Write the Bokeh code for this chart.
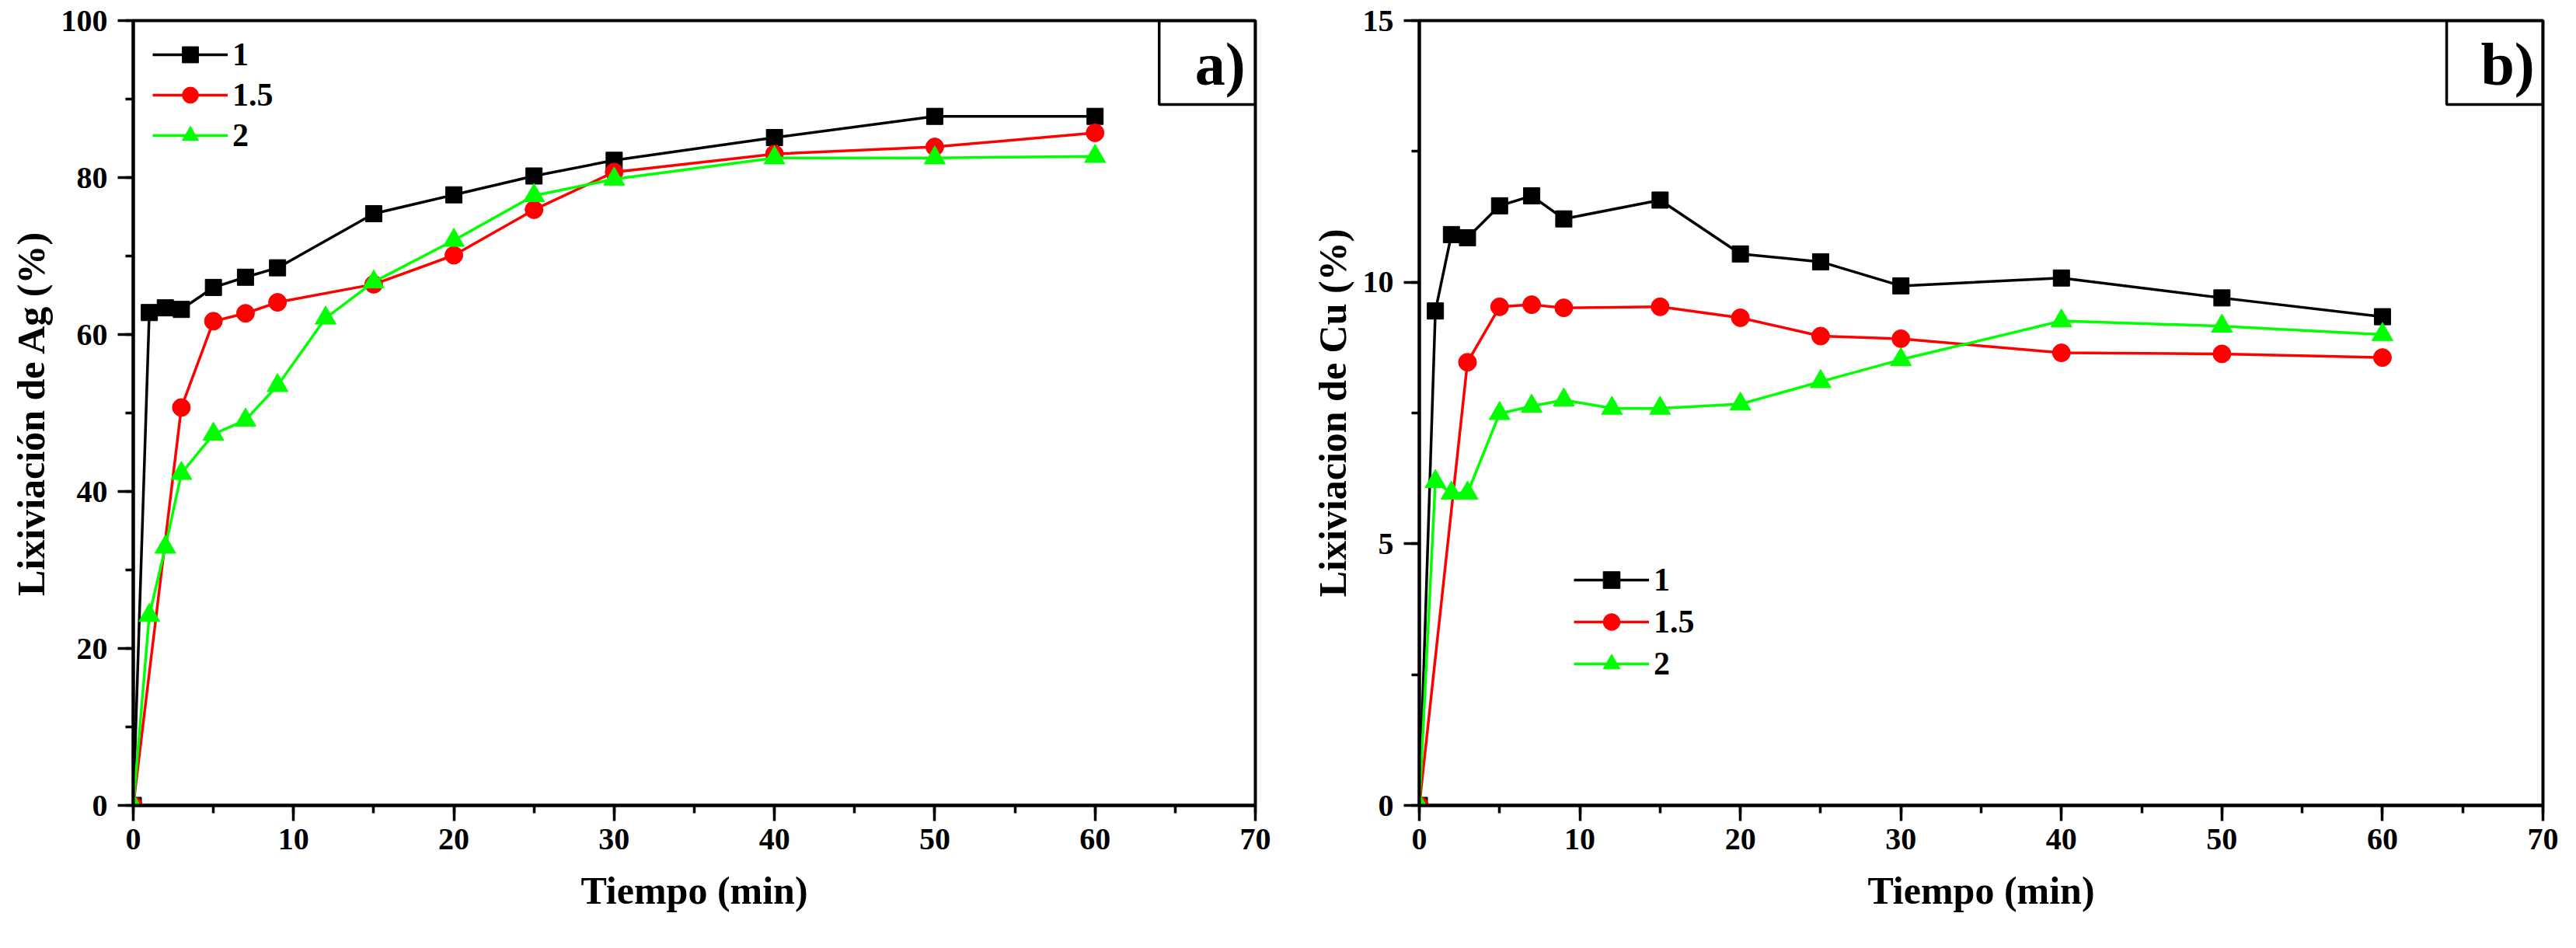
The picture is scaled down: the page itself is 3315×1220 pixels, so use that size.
from bokeh.embed import file_html
from bokeh.layouts import row
from bokeh.models import (BoxAnnotation, Label, Legend, LegendItem, Range1d,
                          SingleIntervalTicker)
from bokeh.plotting import figure
from bokeh.resources import INLINE

# Data
t_1 = [0, 1, 2, 3, 5, 7, 9, 15, 20, 25, 30, 40, 50, 60]
t_15 = [0, 3, 5, 7, 9, 15, 20, 25, 30, 40, 50, 60]
t_2 = [0, 1, 2, 3, 5, 7, 9, 12, 15, 20, 25, 30, 40, 50, 60]

ag_1 = [0, 62.8, 63.4, 63.2, 66.0, 67.3, 68.5, 75.4, 77.8, 80.2, 82.2, 85.1, 87.8, 87.8]
ag_15 = [0, 50.7, 61.7, 62.7, 64.1, 66.4, 70.1, 75.9, 80.7, 83.0, 83.9, 85.7]
ag_2 = [0, 24.2, 32.9, 42.3, 47.3, 49.1, 53.5, 62.1, 66.7, 72.0, 77.7, 79.8, 82.5, 82.5, 82.7]

cu_1 = [0, 9.45, 10.91, 10.85, 11.46, 11.65, 11.21, 11.57, 10.54, 10.39, 9.93, 10.08, 9.70, 9.34]
cu_15 = [0, 8.47, 9.53, 9.57, 9.51, 9.53, 9.32, 8.97, 8.92, 8.65, 8.63, 8.56]
cu_2 = [0, 6.19, 5.97, 5.97, 7.49, 7.63, 7.75, 7.59, 7.59, 7.67, 8.10, 8.52, 9.26, 9.16, 9.00]

labels = ["1", "1.5", "2"]
colors = ["#000000", "#ff0000", "#00ff00"]
markers = ["square", "circle", "triangle"]
sizes = [21, 23, 27]

FONT = "Liberation Serif"


def make_panel(y_max, y_step, y_label, series, tag, legend_loc, row_h,
               border_left, border_right, frame_w):
    p = figure(
        frame_width=frame_w, frame_height=1010,
        min_border_left=border_left, min_border_right=border_right,
        min_border_top=26, min_border_bottom=165,
        x_range=Range1d(0, 70), y_range=Range1d(0, y_max),
        output_backend="svg", toolbar_location=None,
    )
    p.grid.visible = False
    p.outline_line_color = "black"
    p.outline_line_width = 4
    p.outline_line_alpha = 1

    p.xaxis.ticker = SingleIntervalTicker(interval=10, num_minor_ticks=2)
    p.yaxis.ticker = SingleIntervalTicker(interval=y_step, num_minor_ticks=2)
    for ax in (p.xaxis, p.yaxis):
        ax.axis_line_width = 4
        ax.major_tick_line_width = 3.5
        ax.minor_tick_line_width = 3.5
        ax.major_tick_in = 0
        ax.major_tick_out = 20
        ax.minor_tick_in = 0
        ax.minor_tick_out = 10
        ax.major_label_text_font = FONT
        ax.major_label_text_font_style = "bold"
        ax.major_label_text_font_size = "40px"
        ax.major_label_text_color = "black"
        ax.axis_label_text_font = FONT
        ax.axis_label_text_font_style = "bold"
        ax.axis_label_text_font_size = "50px"
        ax.axis_label_text_color = "black"
    p.xaxis.axis_label = "Tiempo (min)"
    p.xaxis.major_label_standoff = 10
    p.xaxis.axis_label_standoff = 22
    p.yaxis.axis_label = y_label
    p.yaxis.major_label_standoff = 13
    p.yaxis.axis_label_standoff = 8

    items = []
    for (xs, ys), lab, col, mk, sz in zip(series, labels, colors, markers, sizes):
        ln = p.line(xs, ys, line_color=col, line_width=3.5)
        sc = p.scatter(xs, ys, marker=mk, size=sz, fill_color=col, line_color=col)
        items.append(LegendItem(label=lab, renderers=[ln, sc]))

    legend = Legend(
        items=items, location=legend_loc,
        glyph_width=97, glyph_height=row_h, label_height=row_h,
        spacing=0, padding=10, label_standoff=6,
        label_text_font=FONT, label_text_font_style="bold",
        label_text_font_size="42px", label_text_color="black",
        border_line_alpha=0, background_fill_alpha=0,
    )
    p.add_layout(legend, "center")

    box = BoxAnnotation(left=64.0, right=70, bottom=y_max * 0.893, top=y_max,
                        fill_alpha=0, line_color="black", line_alpha=1,
                        line_width=3.5)
    p.add_layout(box)
    p.add_layout(Label(x=67.8, y=y_max * 0.945, text=tag, text_align="center",
                       text_baseline="middle", text_font=FONT,
                       text_font_style="bold", text_font_size="78px",
                       text_color="black"))
    return p


pa = make_panel(100, 20, "Lixiviación de Ag (%)",
                [(t_1, ag_1), (t_15, ag_15), (t_2, ag_2)], "a)",
                (15, 826), 52, 171, 61, 1444)
pb = make_panel(15, 5, "Lixiviacion de Cu (%)",
                [(t_1, cu_1), (t_15, cu_15), (t_2, cu_2)], "b)",
                (189, 145), 54, 150, 20, 1446)

layout = row(pa, pb)
open("out.html", "w").write(file_html(layout, INLINE))
